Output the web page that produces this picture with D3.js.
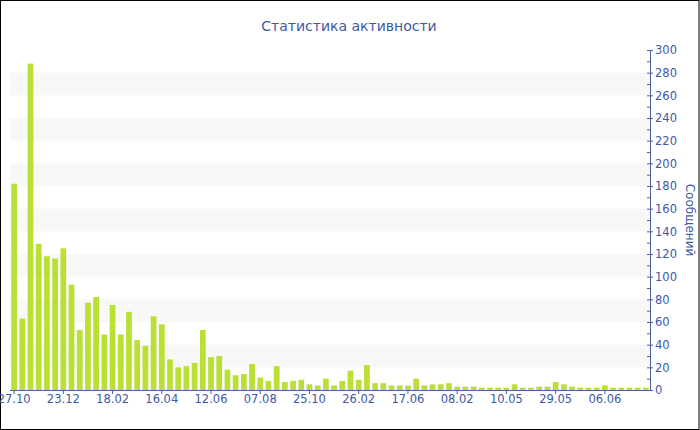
<!DOCTYPE html>
<html>
<head>
<meta charset="utf-8">
<script src="https://cdn.jsdelivr.net/npm/d3@7/dist/d3.min.js"></script>
<style>
html,body{margin:0;padding:0;background:#fff;}
svg{display:block;}
text{font-family:"DejaVu Sans",sans-serif;}
</style>
</head>
<body>
<svg id="chart" width="700" height="430"></svg>
<script>
const title = "Статистика активности";
const yTitle = "Сообщений";
const values = [182,63,288,129,118,116,125,93,53,77,82,49,75,49,69,44,39,65,58,27,
  20,21,24,53,29,30,18,13,14,23,11,8,21,7,8,9,5,4,10,4,
  8,17,9,22,6,6,4,4,4,10,4,5,5,6,3,3,3,2,2,2,
  2,5,2,2,3,3,7,5,3,2,2,2,4,2,2,2,2,2];
const categories = d3.range(values.length);
const tickLabels = ["27.10","23.12","18.02","16.04","12.06","07.08","25.10","26.02","17.06","08.02","10.05","29.05","06.06"];
const tickEvery = 6;
const yMax = 300;

const svg = d3.select("#chart");
const W = 700, H = 430;
const m = {left:10, right:50, top:50, bottom:40};
const pw = W - m.left - m.right, ph = H - m.top - m.bottom;
const textColor = "#4059a3", axisColor = "#4d60a0";

svg.append("rect").attr("x",0.5).attr("y",0.5).attr("width",W-1.5).attr("height",H-1)
  .attr("fill","#fff").attr("stroke","#000");

const g = svg.append("g").attr("transform",`translate(${m.left},${m.top})`);
const x = d3.scaleBand().domain(categories).range([0,pw]).paddingInner(0.3).paddingOuter(0.15);
const y = d3.scaleLinear().domain([0,yMax]).range([ph,0]);

// alternating bands
const bandStarts = d3.range(20, yMax, 40);
g.selectAll("rect.band").data(bandStarts).join("rect").attr("class","band")
  .attr("x",0).attr("width",pw)
  .attr("y",d=>y(d+20)).attr("height",d=>y(d)-y(d+20))
  .attr("fill","#f8f8f8");

// bars
g.selectAll("rect.bar").data(values).join("rect").attr("class","bar")
  .attr("x",(d,i)=>x(categories[i]))
  .attr("width",x.bandwidth())
  .attr("y",d=>y(d)).attr("height",d=>y(0)-y(d))
  .attr("fill","#bbe034");

// x axis
const xTickVals = categories.filter((c,i)=>i%tickEvery===0);
const xAxis = d3.axisBottom(x).tickValues(xTickVals)
  .tickFormat((d,i)=>tickLabels[i]).tickSize(4).tickSizeOuter(0);
const xg = g.append("g").attr("transform",`translate(0,${ph})`).call(xAxis);
xg.select(".domain").attr("stroke",axisColor).attr("d",`M0,0.5H${pw}`);
xg.selectAll(".tick line").attr("stroke",axisColor);
xg.selectAll(".tick text").attr("fill",textColor).attr("font-size",11.5).attr("dy","0.55em");

// y axis minor ticks
const ymg = g.append("g").attr("transform",`translate(${pw},0)`)
  .call(d3.axisRight(y).tickValues(d3.range(10,yMax,20)).tickSize(-3).tickFormat(""));
ymg.select(".domain").remove();
ymg.selectAll(".tick line").attr("stroke",axisColor);

// y axis major
const yAxis = d3.axisRight(y).tickValues(d3.range(0,yMax+1,20)).tickSize(3).tickSizeOuter(0);
const yg = g.append("g").attr("transform",`translate(${pw},0)`).call(yAxis);
yg.select(".domain").attr("stroke",axisColor);
yg.selectAll(".tick line").attr("stroke",axisColor).attr("x1",-3);
yg.selectAll(".tick text").attr("fill",textColor).attr("font-size",11.5).attr("x",5);

// titles
svg.append("text").attr("x",349).attr("y",31).attr("text-anchor","middle")
  .attr("fill",textColor).attr("font-size",14).text(title);
svg.append("text").attr("transform",`translate(686,${m.top+ph/2}) rotate(90)`)
  .attr("text-anchor","middle").attr("fill",textColor).attr("font-size",12).text(yTitle);
</script>
</body>
</html>
